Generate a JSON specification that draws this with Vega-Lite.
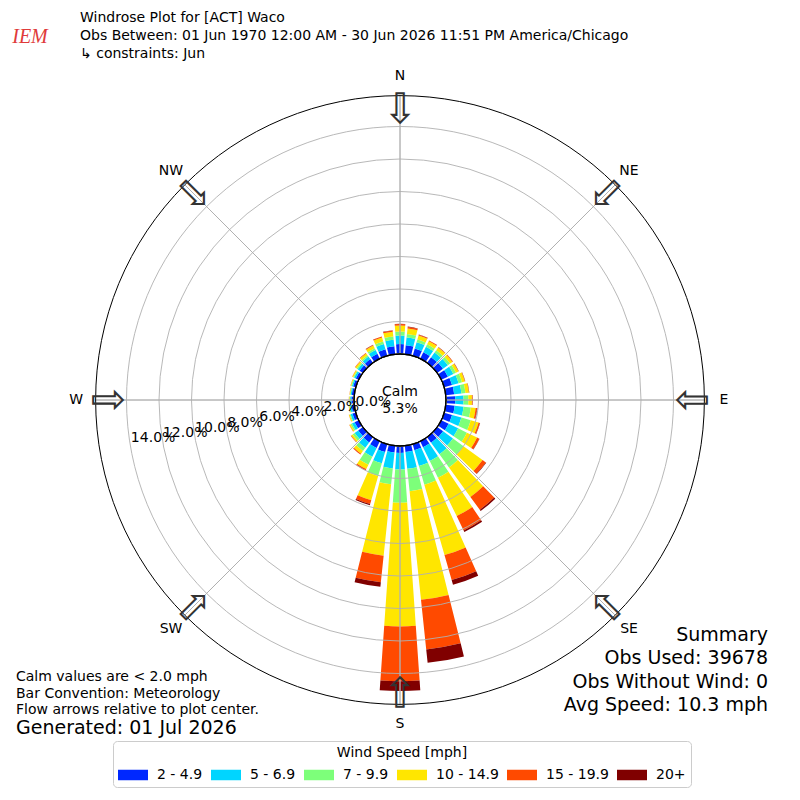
{
  "$schema": "https://vega.github.io/schema/vega-lite/v6.json",
  "width": 800,
  "height": 800,
  "padding": 0,
  "autosize": {"type": "none"},
  "background": "white",
  "config": {"font": "DejaVu Sans", "view": {"stroke": null}},
  "datasets": {
    "rose": [
      {"dir": 0, "lo": -4, "hi": 4, "s1": 0.61, "s2": 0.53, "s3": 0.24, "s4": 0.37, "s5": 0.09, "s6": 0.02},
      {"dir": 10, "lo": 6, "hi": 14, "s1": 0.56, "s2": 0.48, "s3": 0.22, "s4": 0.34, "s5": 0.09, "s6": 0.02},
      {"dir": 20, "lo": 16, "hi": 24, "s1": 0.47, "s2": 0.40, "s3": 0.18, "s4": 0.25, "s5": 0.05, "s6": 0.01},
      {"dir": 30, "lo": 26, "hi": 34, "s1": 0.44, "s2": 0.37, "s3": 0.17, "s4": 0.22, "s5": 0.04, "s6": 0.01},
      {"dir": 40, "lo": 36, "hi": 44, "s1": 0.43, "s2": 0.36, "s3": 0.17, "s4": 0.20, "s5": 0.03, "s6": 0.01},
      {"dir": 50, "lo": 46, "hi": 54, "s1": 0.44, "s2": 0.37, "s3": 0.17, "s4": 0.18, "s5": 0.03, "s6": 0.01},
      {"dir": 60, "lo": 56, "hi": 64, "s1": 0.45, "s2": 0.37, "s3": 0.18, "s4": 0.17, "s5": 0.02, "s6": 0.01},
      {"dir": 70, "lo": 66, "hi": 74, "s1": 0.50, "s2": 0.42, "s3": 0.22, "s4": 0.18, "s5": 0.02, "s6": 0.01},
      {"dir": 80, "lo": 76, "hi": 84, "s1": 0.52, "s2": 0.45, "s3": 0.25, "s4": 0.21, "s5": 0.02, "s6": 0.01},
      {"dir": 90, "lo": 86, "hi": 94, "s1": 0.57, "s2": 0.51, "s3": 0.30, "s4": 0.22, "s5": 0.04, "s6": 0.01},
      {"dir": 100, "lo": 96, "hi": 104, "s1": 0.55, "s2": 0.55, "s3": 0.45, "s4": 0.30, "s5": 0.09, "s6": 0.02},
      {"dir": 110, "lo": 106, "hi": 114, "s1": 0.50, "s2": 0.60, "s3": 0.60, "s4": 0.50, "s5": 0.08, "s6": 0.02},
      {"dir": 120, "lo": 116, "hi": 124, "s1": 0.50, "s2": 0.65, "s3": 0.60, "s4": 0.70, "s5": 0.15, "s6": 0.02},
      {"dir": 130, "lo": 126, "hi": 134, "s1": 0.45, "s2": 0.75, "s3": 0.80, "s4": 1.45, "s5": 0.25, "s6": 0.03},
      {"dir": 140, "lo": 136, "hi": 144, "s1": 0.42, "s2": 0.88, "s3": 1.00, "s4": 2.24, "s5": 0.98, "s6": 0.09},
      {"dir": 150, "lo": 146, "hi": 154, "s1": 0.40, "s2": 0.95, "s3": 1.15, "s4": 2.62, "s5": 0.98, "s6": 0.10},
      {"dir": 160, "lo": 156, "hi": 164, "s1": 0.38, "s2": 1.02, "s3": 1.20, "s4": 4.50, "s5": 1.60, "s6": 0.30},
      {"dir": 170, "lo": 166, "hi": 174, "s1": 0.38, "s2": 1.05, "s3": 1.38, "s4": 6.72, "s5": 3.07, "s6": 0.83},
      {"dir": 180, "lo": 176, "hi": 184, "s1": 0.43, "s2": 1.02, "s3": 2.05, "s4": 7.60, "s5": 3.37, "s6": 0.60},
      {"dir": 190, "lo": 186, "hi": 194, "s1": 0.42, "s2": 0.99, "s3": 0.98, "s4": 4.41, "s5": 1.64, "s6": 0.28},
      {"dir": 200, "lo": 196, "hi": 204, "s1": 0.50, "s2": 0.72, "s3": 0.82, "s4": 1.54, "s5": 0.25, "s6": 0.07},
      {"dir": 210, "lo": 206, "hi": 214, "s1": 0.45, "s2": 0.60, "s3": 0.55, "s4": 0.30, "s5": 0.08, "s6": 0.02},
      {"dir": 220, "lo": 216, "hi": 224, "s1": 0.40, "s2": 0.40, "s3": 0.25, "s4": 0.20, "s5": 0.06, "s6": 0.01},
      {"dir": 230, "lo": 226, "hi": 234, "s1": 0.35, "s2": 0.27, "s3": 0.15, "s4": 0.11, "s5": 0.03, "s6": 0.01},
      {"dir": 240, "lo": 236, "hi": 244, "s1": 0.28, "s2": 0.18, "s3": 0.10, "s4": 0.07, "s5": 0.02, "s6": 0.00},
      {"dir": 250, "lo": 246, "hi": 254, "s1": 0.21, "s2": 0.12, "s3": 0.06, "s4": 0.05, "s5": 0.01, "s6": 0.00},
      {"dir": 260, "lo": 256, "hi": 264, "s1": 0.17, "s2": 0.09, "s3": 0.05, "s4": 0.03, "s5": 0.01, "s6": 0.00},
      {"dir": 270, "lo": 266, "hi": 274, "s1": 0.16, "s2": 0.08, "s3": 0.04, "s4": 0.03, "s5": 0.01, "s6": 0.00},
      {"dir": 280, "lo": 276, "hi": 284, "s1": 0.15, "s2": 0.07, "s3": 0.04, "s4": 0.03, "s5": 0.01, "s6": 0.00},
      {"dir": 290, "lo": 286, "hi": 294, "s1": 0.17, "s2": 0.08, "s3": 0.05, "s4": 0.04, "s5": 0.01, "s6": 0.00},
      {"dir": 300, "lo": 296, "hi": 304, "s1": 0.20, "s2": 0.11, "s3": 0.06, "s4": 0.06, "s5": 0.02, "s6": 0.00},
      {"dir": 310, "lo": 306, "hi": 314, "s1": 0.24, "s2": 0.15, "s3": 0.08, "s4": 0.10, "s5": 0.03, "s6": 0.00},
      {"dir": 320, "lo": 316, "hi": 324, "s1": 0.28, "s2": 0.19, "s3": 0.10, "s4": 0.14, "s5": 0.03, "s6": 0.01},
      {"dir": 330, "lo": 326, "hi": 334, "s1": 0.34, "s2": 0.25, "s3": 0.13, "s4": 0.18, "s5": 0.04, "s6": 0.01},
      {"dir": 340, "lo": 336, "hi": 344, "s1": 0.42, "s2": 0.33, "s3": 0.17, "s4": 0.25, "s5": 0.06, "s6": 0.01},
      {"dir": 350, "lo": 346, "hi": 354, "s1": 0.50, "s2": 0.40, "s3": 0.20, "s4": 0.30, "s5": 0.07, "s6": 0.02}
    ],
    "rings": [
      {"pct": 0, "label": "0.0%"},
      {"pct": 2, "label": "2.0%"},
      {"pct": 4, "label": "4.0%"},
      {"pct": 6, "label": "6.0%"},
      {"pct": 8, "label": "8.0%"},
      {"pct": 10, "label": "10.0%"},
      {"pct": 12, "label": "12.0%"},
      {"pct": 14, "label": "14.0%"}
    ],
    "compass": [
      {"dir": 0, "name": "N"},
      {"dir": 45, "name": "NE"},
      {"dir": 90, "name": "E"},
      {"dir": 135, "name": "SE"},
      {"dir": 180, "name": "S"},
      {"dir": 225, "name": "SW"},
      {"dir": 270, "name": "W"},
      {"dir": 315, "name": "NW"}
    ],
    "one": [{}]
  },
  "layer": [
    {
      "data": {"name": "rose"},
      "transform": [
        {"fold": ["s1", "s2", "s3", "s4", "s5", "s6"], "as": ["bin", "pct"]},
        {
          "lookup": "bin",
          "from": {
            "data": {"values": [
              {"bin": "s1", "speed": "2 - 4.9"},
              {"bin": "s2", "speed": "5 - 6.9"},
              {"bin": "s3", "speed": "7 - 9.9"},
              {"bin": "s4", "speed": "10 - 14.9"},
              {"bin": "s5", "speed": "15 - 19.9"},
              {"bin": "s6", "speed": "20+"}
            ]},
            "key": "bin",
            "fields": ["speed"]
          }
        },
        {"stack": "pct", "groupby": ["dir"], "sort": [{"field": "bin", "order": "ascending"}], "as": ["r0", "r1"]}
      ],
      "mark": {"type": "arc"},
      "encoding": {
        "theta": {"field": "lo", "type": "quantitative", "stack": null, "scale": {"domain": [0, 360], "range": [0, 6.283185307]}},
        "theta2": {"field": "hi"},
        "radius": {"field": "r0", "type": "quantitative", "stack": null, "scale": {"type": "linear", "domain": [0, 16], "range": [46, 306], "zero": false}},
        "radius2": {"field": "r1"},
        "color": {
          "field": "speed",
          "type": "nominal",
          "scale": {
            "domain": ["2 - 4.9", "5 - 6.9", "7 - 9.9", "10 - 14.9", "15 - 19.9", "20+"],
            "range": ["#0028ff", "#00d5ff", "#7dff7a", "#ffe600", "#ff4a00", "#800000"]
          },
          "legend": {
            "title": "Wind Speed [mph]",
            "orient": "none",
            "legendX": 113,
            "legendY": 741,
            "direction": "horizontal",
            "columns": 6,
            "titleAnchor": "middle",
            "titleFontSize": 14,
            "titleFontWeight": "normal",
            "titleColor": "black",
            "titlePadding": 0,
            "labelFontSize": 14,
            "labelColor": "black",
            "labelOffset": 9,
            "symbolType": "M-1,-0.35H1V0.35H-1Z",
            "symbolSize": 900,
            "symbolStrokeWidth": 0,
            "symbolOpacity": 1,
            "columnPadding": 8,
            "padding": 5,
            "strokeColor": "#cccccc",
            "fillColor": "white",
            "cornerRadius": 4
          }
        }
      }
    },
    {
      "data": {"name": "rings"},
      "mark": {"type": "arc", "theta": 0, "theta2": 6.2832, "fill": "transparent", "stroke": "#b0b0b0", "strokeWidth": 0.9},
      "encoding": {
        "radius": {"field": "pct", "type": "quantitative", "stack": null, "scale": {"type": "linear", "domain": [0, 16], "range": [46, 306], "zero": false}}
      }
    },
    {
      "data": {"name": "compass"},
      "mark": {"type": "arc", "fill": "transparent", "stroke": "#b0b0b0", "strokeWidth": 0.9},
      "encoding": {
        "theta": {"field": "dir", "type": "quantitative", "stack": null, "scale": {"domain": [0, 360], "range": [0, 6.283185307]}},
        "theta2": {"field": "dir"},
        "radius": {"datum": 15.9, "type": "quantitative", "stack": null, "scale": {"type": "linear", "domain": [0, 16], "range": [46, 306], "zero": false}},
        "radius2": {"datum": 0}
      }
    },
    {
      "data": {"name": "one"},
      "mark": {"type": "arc", "theta": 0, "theta2": 6.2832, "fill": "white", "stroke": "black", "strokeWidth": 1.3},
      "encoding": {
        "radius": {"datum": 0, "type": "quantitative", "stack": null, "scale": {"type": "linear", "domain": [0, 16], "range": [46, 306], "zero": false}}
      }
    },
    {
      "data": {"name": "one"},
      "mark": {"type": "arc", "theta": 0, "theta2": 6.2832, "fill": "transparent", "stroke": "black", "strokeWidth": 1},
      "encoding": {
        "radius": {"datum": 15.9, "type": "quantitative", "stack": null, "scale": {"type": "linear", "domain": [0, 16], "range": [46, 306], "zero": false}}
      }
    },
    {
      "data": {"name": "rings"},
      "mark": {"type": "text", "align": "left", "baseline": "middle", "dx": 1, "dy": -5, "fontSize": 14, "color": "black"},
      "encoding": {
        "theta": {"datum": 261, "type": "quantitative", "scale": {"domain": [0, 360], "range": [0, 6.283185307]}},
        "radius": {"field": "pct", "type": "quantitative", "scale": {"type": "linear", "domain": [0, 16], "range": [46, 306], "zero": false}},
        "text": {"field": "label"}
      }
    },
    {
      "data": {"name": "compass"},
      "mark": {"type": "text", "align": "center", "baseline": "middle", "fontSize": 14, "color": "black"},
      "encoding": {
        "theta": {"field": "dir", "type": "quantitative", "stack": null, "scale": {"domain": [0, 360], "range": [0, 6.283185307]}},
        "radius": {"datum": 17.1, "type": "quantitative", "scale": {"type": "linear", "domain": [0, 16], "range": [46, 306], "zero": false}},
        "text": {"field": "name"}
      }
    },
    {
      "data": {"name": "compass"},
      "mark": {"type": "text", "align": "center", "baseline": "middle", "fontSize": 42, "color": "#333333", "text": "⇩"},
      "encoding": {
        "theta": {"field": "dir", "type": "quantitative", "stack": null, "scale": {"domain": [0, 360], "range": [0, 6.283185307]}},
        "radius": {"datum": 15.0, "type": "quantitative", "scale": {"type": "linear", "domain": [0, 16], "range": [46, 306], "zero": false}},
        "angle": {"field": "dir", "type": "quantitative", "scale": null}
      }
    },
    {
      "data": {"name": "one"},
      "mark": {"type": "text", "text": ["Calm", "5.3%"], "align": "center", "baseline": "middle", "dy": -8.5, "fontSize": 14, "lineHeight": 17, "color": "black"}
    },
    {
      "data": {"name": "one"},
      "mark": {"type": "text", "text": ["Windrose Plot for [ACT] Waco", "Obs Between: 01 Jun 1970 12:00 AM - 30 Jun 2026 11:51 PM America/Chicago", "↳ constraints: Jun"], "x": 80, "y": 18, "align": "left", "baseline": "middle", "fontSize": 14, "lineHeight": 18, "color": "black"}
    },
    {
      "data": {"name": "one"},
      "mark": {"type": "text", "text": ["Calm values are < 2.0 mph", "Bar Convention: Meteorology", "Flow arrows relative to plot center."], "x": 16, "y": 677, "align": "left", "baseline": "middle", "fontSize": 14, "lineHeight": 16.5, "color": "black"}
    },
    {
      "data": {"name": "one"},
      "mark": {"type": "text", "text": "Generated: 01 Jul 2026", "x": 16, "y": 728, "align": "left", "baseline": "middle", "fontSize": 19, "color": "black"}
    },
    {
      "data": {"name": "one"},
      "mark": {"type": "text", "text": ["Summary", "Obs Used: 39678", "Obs Without Wind: 0", "Avg Speed: 10.3 mph"], "x": 768, "y": 635, "align": "right", "baseline": "middle", "fontSize": 19, "lineHeight": 23.3, "color": "black"}
    },
    {
      "data": {"name": "one"},
      "mark": {"type": "text", "text": "IEM", "x": 30, "y": 37, "align": "center", "baseline": "middle", "font": "Liberation Serif", "fontStyle": "italic", "fontSize": 20, "color": "#e03a3a"}
    }
  ]
}
